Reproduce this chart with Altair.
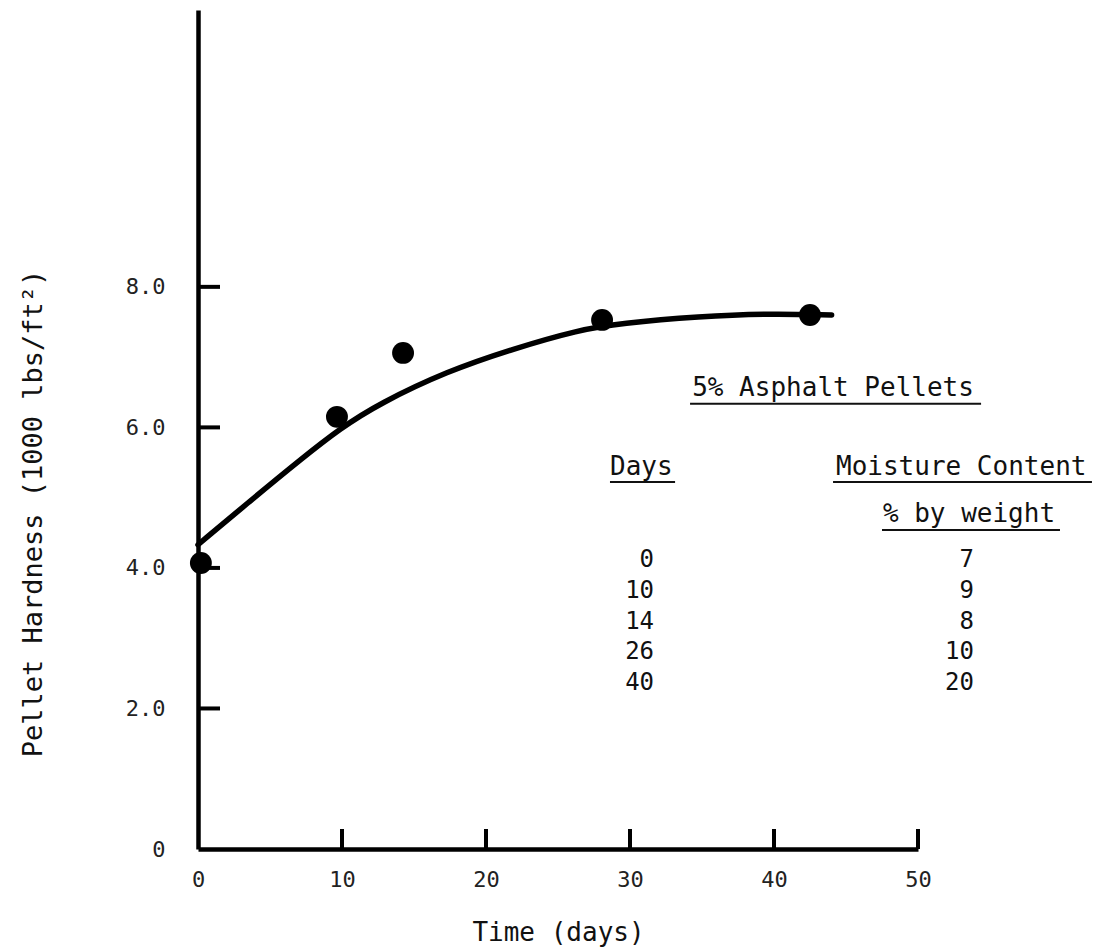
import altair as alt
import pandas as pd

# ---- data ----
point_days = [0.2, 9.65, 14.24, 28.06, 42.5]
point_hardness = [4.07, 6.15, 7.06, 7.53, 7.60]

curve_days = [0.0, 3.6, 7.1, 9.9, 12.6, 17.3, 21.9, 26.5, 29.3, 34.9, 39.5, 44.0]
curve_hardness = [4.33, 4.95, 5.54, 5.99, 6.34, 6.80, 7.12, 7.39, 7.48, 7.58, 7.62, 7.60]

x_tick_values = [0, 10, 20, 30, 40, 50]
y_tick_values = [0, 2, 4, 6, 8]

table_title = "5% Asphalt Pellets"
table_days_header = "Days"
table_moist_header = "Moisture Content"
table_moist_sub = "% by weight"
table_days = ["0", "10", "14", "26", "40"]
table_moisture = ["7", "9", "8", "10", "20"]

FONT = "DejaVu Sans Mono"
INK = "#111111"

X_DOMAIN = [0, 50]
Y_DOMAIN = [0, 11.94]


def X(field):
    return alt.X(
        f"{field}:Q",
        scale=alt.Scale(domain=X_DOMAIN, nice=False, zero=False),
        axis=alt.Axis(
            values=x_tick_values,
            title="Time (days)",
            labelPadding=20,
            labelFlush=False,
            titleY=83,
            titleBaseline="middle",
            titleFontSize=26,
        ),
    )


def Y(field):
    return alt.Y(
        f"{field}:Q",
        scale=alt.Scale(domain=Y_DOMAIN, nice=False, zero=False),
        axis=alt.Axis(
            values=y_tick_values,
            labelExpr="datum.value == 0 ? '0' : format(datum.value, '.1f')",
            title="Pellet Hardness (1000 lbs/ft²)",
            labelPadding=33,
            labelFlush=False,
            titleAngle=270,
            titleX=-165,
            titleY=503,
            titleAlign="center",
            titleBaseline="middle",
            titleFontSize=27,
        ),
    )


curve_df = pd.DataFrame({"x": curve_days, "y": curve_hardness})
points_df = pd.DataFrame({"x": point_days, "y": point_hardness})
ytick_df = pd.DataFrame({"y": [v for v in y_tick_values if v > 0]})
xtick_df = pd.DataFrame({"x": [v for v in x_tick_values if v > 0]})

curve = alt.Chart(curve_df).mark_line(
    interpolate="basis", color="black", strokeWidth=5.5, strokeCap="round"
).encode(x=X("x"), y=Y("y"))

points = alt.Chart(points_df).mark_point(
    filled=True, color="black", size=480, opacity=1
).encode(x=X("x"), y=Y("y"))

yticks = alt.Chart(ytick_df).mark_rule(color="black", strokeWidth=4).encode(
    y=Y("y"), x=alt.value(0), x2=alt.value(22)
)
xticks = alt.Chart(xtick_df).mark_rule(color="black", strokeWidth=4).encode(
    x=X("x"), y=alt.value(839), y2=alt.value(819)
)

# ---- annotation table (positions in data units) ----
row0_y, row_step = 4.114, 0.4384
row_y = [row0_y - i * row_step for i in range(len(table_days))]

center_df = pd.DataFrame({
    "x": [44.10, 53.0, 53.54],
    "y": [6.562, 5.44, 4.769],
    "t": [table_title, table_moist_header, table_moist_sub],
})
left_df = pd.DataFrame({"x": [28.61], "y": [5.44], "t": [table_days_header]})
right_df = pd.DataFrame({
    "x": [31.67] * len(table_days) + [53.89] * len(table_moisture),
    "y": row_y + row_y,
    "t": table_days + table_moisture,
})
under_df = pd.DataFrame({
    "x": [34.17, 28.61, 44.10, 47.50],
    "x2": [54.38, 33.13, 62.08, 59.86],
    "y": [6.335, 5.224, 5.224, 4.541],
})

txt_center = alt.Chart(center_df).mark_text(
    font=FONT, fontSize=26, color=INK, align="center", baseline="middle"
).encode(x=X("x"), y=Y("y"), text="t:N")
txt_left = alt.Chart(left_df).mark_text(
    font=FONT, fontSize=26, color=INK, align="left", baseline="middle"
).encode(x=X("x"), y=Y("y"), text="t:N")
txt_right = alt.Chart(right_df).mark_text(
    font=FONT, fontSize=24, color=INK, align="right", baseline="middle"
).encode(x=X("x"), y=Y("y"), text="t:N")
underlines = alt.Chart(under_df).mark_rule(color=INK, strokeWidth=2).encode(
    x=X("x"), x2="x2:Q", y=Y("y")
)

chart = alt.layer(
    curve, points, yticks, xticks, txt_center, txt_left, txt_right, underlines
).properties(
    width=720,
    height=839,
    autosize=alt.AutoSizeParams(type="none"),
    padding={"left": 198, "top": 10, "right": 176, "bottom": 100},
    background="white",
).configure_view(stroke=None).configure_axis(
    grid=False,
    ticks=False,
    domainColor="black",
    domainWidth=4.5,
    labelFont=FONT,
    labelFontSize=22,
    labelColor="#222222",
    titleFont=FONT,
    titleFontWeight="normal",
    titleColor=INK,
)

chart.save("out.html", embed_options={"renderer": "svg", "actions": False})
